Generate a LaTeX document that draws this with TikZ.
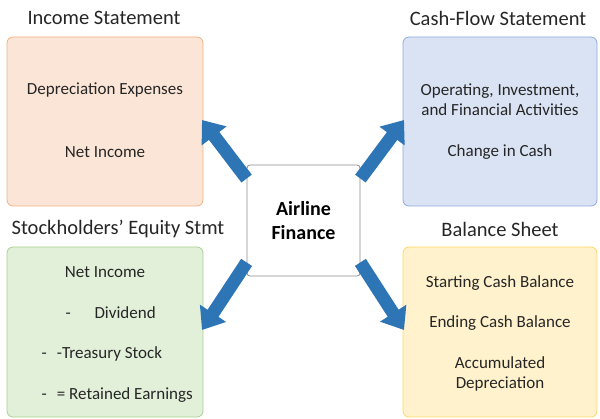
\documentclass[tikz,border=0pt]{standalone}
\usepackage{fontspec}
\setmainfont{Carlito}
\usetikzlibrary{arrows.meta}
\definecolor{oF}{HTML}{FBE5D6}\definecolor{oD}{HTML}{F4B183}
\definecolor{bF}{HTML}{DAE3F3}\definecolor{bD}{HTML}{8FAADC}
\definecolor{gF}{HTML}{E2F0D9}\definecolor{gD}{HTML}{A9D18E}
\definecolor{yF}{HTML}{FFF2CC}\definecolor{yD}{HTML}{FFD966}
\definecolor{arr}{HTML}{2E75B6}
\begin{document}
\begin{tikzpicture}[x=1pt,y=-1pt,
 panel/.style={draw=#1,line width=0.8pt,rounded corners=6pt},
 ttl/.style={font=\fontsize{20.5}{23}\selectfont,text=black!85},
 txt/.style={font=\fontsize{17}{20}\selectfont,text=black!85,align=center},
 fat/.style={draw=arr,line width=13pt,-{Triangle[width=30pt,length=20pt]}}]
\useasboundingbox (0,0) rectangle (600,419);
\path[panel=oD,fill=oF] (7,37) rectangle (203,206);
\path[panel=bD,fill=bF] (403,37) rectangle (597,206);
\path[panel=gD,fill=gF] (7,247) rectangle (203,417);
\path[panel=yD,fill=yF] (403,247) rectangle (597,417);
\node[draw=black!45,fill=white,line width=0.8pt,rounded corners=3pt,minimum width=113pt,minimum height=111pt,align=center,font=\fontsize{20}{24}\selectfont\bfseries] (c) at (303.5,220.5) {Airline\\Finance};
\node[ttl] (t1) at (104,18) {Income Statement};
\node[ttl] (t2) at (498,18) {Cash-Flow Statement};
\node[ttl] (t3) at (118,229) {Stockholders’ Equity Stmt};
\node[ttl] (t4) at (500,229) {Balance Sheet};
\node[txt] (a1) at (105,90) {Depreciation Expenses};
\node[txt] (a2) at (105,152) {Net Income};
\node[txt] (b1) at (500,100) {Operating, Investment,\\and Financial Activities};
\node[txt] (b2) at (500,152) {Change in Cash};
\node[txt] (g1) at (105,272) {Net Income};
\node[txt,anchor=west] (g2) at (62,313) {-\hspace{1.4em}Dividend};
\node[txt,anchor=west] (g3) at (38,354) {-\hspace{0.6em}-Treasury Stock};
\node[txt,anchor=west] (g4) at (38,395) {-\hspace{0.6em}= Retained Earnings};
\node[txt] (y1) at (500,283) {Starting Cash Balance};
\node[txt] (y2) at (500,323) {Ending Cash Balance};
\node[txt] (y3) at (500,374) {Accumulated\\Depreciation};
\coordinate (p1) at (202,120);\coordinate (p2) at (404,120);
\coordinate (p3) at (202,330);\coordinate (p4) at (404,330);
\draw[fat] ([shift={(0,14)}]c.north west) -- (p1);
\draw[fat] ([shift={(0,14)}]c.north east) -- (p2);
\draw[fat] ([shift={(0,-14)}]c.south west) -- (p3);
\draw[fat] ([shift={(0,-14)}]c.south east) -- (p4);
\end{tikzpicture}
\end{document}
